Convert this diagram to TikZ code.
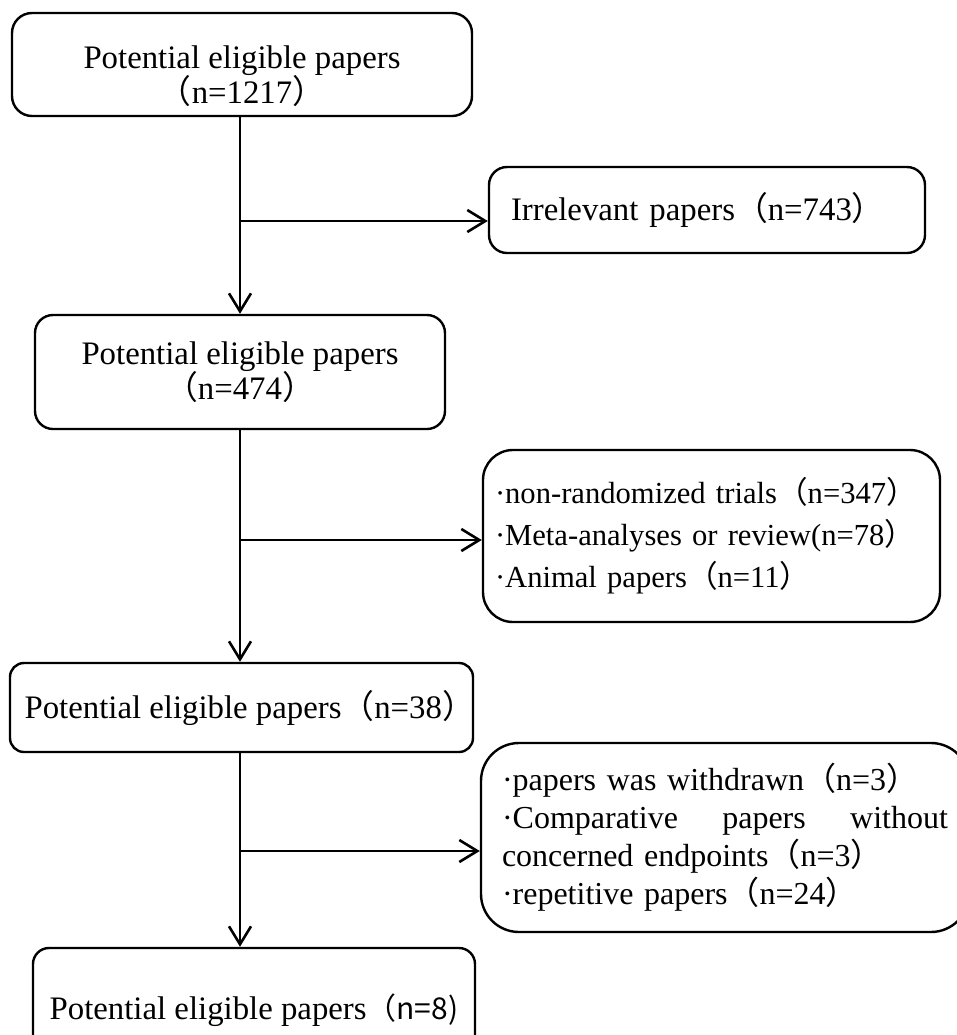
\documentclass[tikz,border=0pt]{standalone}
\usepackage{fontspec}
\setmainfont{Liberation Serif}
\newfontfamily\cjk{Noto Sans CJK SC}
\usetikzlibrary{arrows.meta, positioning, calc}

\newcommand{\lp}{{\cjk （}}
\newcommand{\rp}{{\cjk ）}}

\begin{document}
\begin{tikzpicture}[x=0.5pt, y=-0.5pt,
    box/.style={draw, line width=1.2pt, inner sep=0pt, font=\fontsize{16.4}{17.8}\selectfont},
    arr/.style={line width=1.3pt, -{Straight Barb[length=9pt, width=11pt, line width=1.3pt]}}]
    \clip (0,0) rectangle (957,1035);
    \fill[white] (0,0) rectangle (957,1035);

    \node[box, rounded corners=10pt, minimum width=230pt, minimum height=51.5pt, align=center] (p1) at (242,64.5)
        {\rule{0pt}{23pt}Potential eligible papers\\\lp n=1217\rp};
    \node[box, rounded corners=9pt, minimum width=218pt, minimum height=43pt, text width=196pt, align=left] (p2) at (707,210)
        {Irrelevant papers\lp n=743\rp};
    \node[box, rounded corners=9pt, minimum width=205pt, minimum height=57pt, align=center] (p3) at (240,372)
        {Potential eligible papers\\\lp n=474\rp};
    \node[box, rounded corners=15pt, minimum width=228.5pt, minimum height=86pt, text width=216.5pt, align=left,
          font=\fontsize{15.3}{21}\selectfont] (p4) at (711.5,536)
        {·non-randomized trials\lp n=347\rp\\
         ·Meta-analyses or review(n=78\rp\\
         ·Animal papers\lp n=11\rp};
    \node[box, rounded corners=7pt, minimum width=231.5pt, minimum height=44.5pt, align=center] (p5) at (241.5,707.5)
        {Potential eligible papers\lp n=38\rp\hspace{-0.5em}};
    \node[box, rounded corners=19pt, minimum width=244pt, minimum height=94.5pt, text width=223pt, align=left,
          font=\fontsize{16}{19}\selectfont] (p6) at (725,837.5)
        {·papers was withdrawn\lp n=3\rp\\
         \makebox[223pt][s]{·Comparative\hfill papers\hfill without}\\
         concerned endpoints\lp n=3\rp\\
         ·repetitive papers\lp n=24\rp};
    \node[box, rounded corners=8pt, minimum width=221pt, minimum height=62pt, align=center] (p7) at (254,1010)
        {Potential eligible papers{\cjk\fontsize{15}{17}\selectfont （n=8)}};

    % main flow
    \draw[arr] (p1.south -| p3.north) -- (p3.north);
    \draw[arr] (p3.south) -- (p5.north -| p3.south);
    \draw[arr] (p5.south -| p3.south) -- (p7.north -| p3.south);

    % excluded
    \coordinate (j1) at (240,221);
    \coordinate (j2) at (240,540);
    \coordinate (j3) at (240,851);
    \draw[arr] (j1) -- (j1 -| p2.west);
    \draw[arr] (j2) -- (j2 -| p4.west);
    \draw[arr] (j3) -- (j3 -| p6.west);
\end{tikzpicture}
\end{document}
